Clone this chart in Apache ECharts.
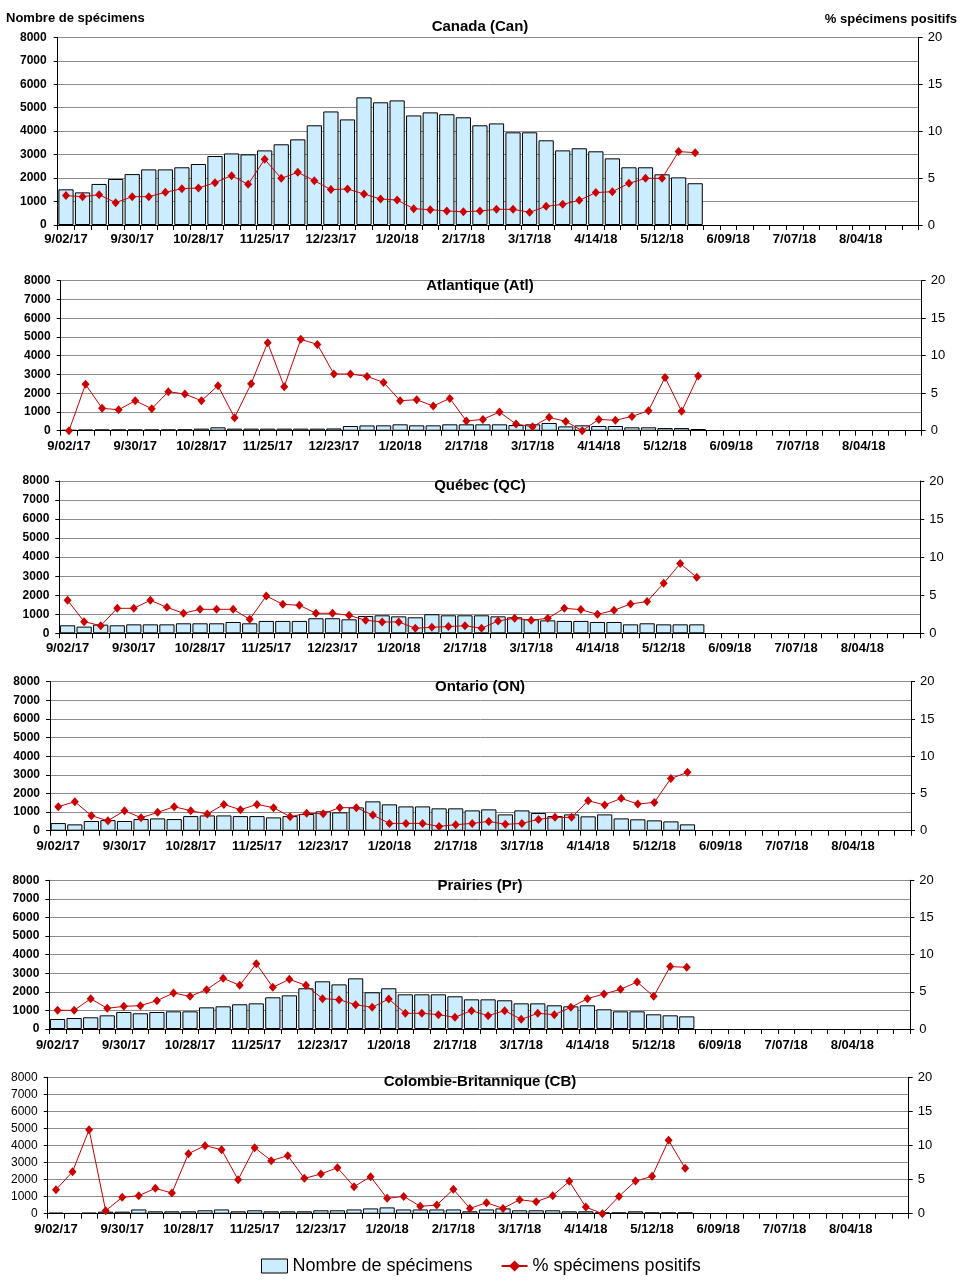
<!DOCTYPE html>
<html><head><meta charset="utf-8">
<script src="https://cdn.jsdelivr.net/npm/echarts@6/dist/echarts.min.js"></script>
<style>html,body{margin:0;padding:0;background:#fff}#c{width:961px;height:1284px}</style>
</head><body><div id="c"></div>
<script>
// ---- categories (weeks) ----
const weeks = ['9/02/17','9/09/17','9/16/17','9/23/17','9/30/17','10/07/17','10/14/17','10/21/17','10/28/17','11/04/17','11/11/17','11/18/17','11/25/17','12/02/17','12/09/17','12/16/17','12/23/17','12/30/17','1/06/18','1/13/18','1/20/18','1/27/18','2/03/18','2/10/18','2/17/18','2/24/18','3/03/18','3/10/18','3/17/18','3/24/18','3/31/18','4/07/18','4/14/18','4/21/18','4/28/18','5/05/18','5/12/18','5/19/18','5/26/18','6/02/18','6/09/18','6/16/18','6/23/18','6/30/18','7/07/18','7/14/18','7/21/18','7/28/18','8/04/18','8/11/18','8/18/18','8/25/18'];

// ---- series values ----
const canadaCount = [1520,1390,1750,1960,2170,2370,2370,2460,2600,2940,3050,3010,3180,3440,3650,4250,4840,4500,5440,5230,5310,4670,4800,4720,4590,4250,4330,3950,3950,3610,3180,3270,3140,2840,2460,2460,2160,2030,1780];
const canadaPct = [3.13,3.02,3.23,2.38,3.02,3.02,3.48,3.87,3.94,4.51,5.26,4.33,7.0,4.97,5.61,4.72,3.77,3.84,3.30,2.77,2.66,1.74,1.63,1.49,1.42,1.49,1.67,1.67,1.35,1.99,2.20,2.63,3.45,3.55,4.44,4.97,4.97,7.82,7.71];

const atlCount = [40,60,70,70,70,70,70,80,110,180,110,110,110,110,110,110,120,250,280,285,340,285,285,340,340,340,340,300,340,410,230,285,250,250,180,180,140,140,90];
const atlPct = [0,6.18,2.98,2.8,4.0,2.93,5.2,4.89,4.0,6.0,1.73,6.27,11.73,5.87,12.18,11.51,7.56,7.56,7.24,6.44,4.0,4.13,3.29,4.31,1.29,1.51,2.49,0.89,0.53,1.78,1.24,0,1.51,1.38,1.91,2.67,7.11,2.58,7.29];

const qcCount = [420,350,455,420,470,470,470,525,525,525,595,525,650,650,650,790,790,735,910,945,890,840,1000,945,945,945,890,840,735,680,650,650,595,595,470,525,470,470,470];
const qcPct = [4.33,1.53,1.0,3.28,3.28,4.33,3.41,2.63,3.15,3.15,3.15,1.84,4.9,3.81,3.68,2.63,2.63,2.36,1.71,1.49,1.49,0.66,0.79,0.88,1.0,0.66,1.62,1.97,1.71,1.97,3.28,3.11,2.49,3.02,3.85,4.16,6.56,9.15,7.35];

const onCount = [410,340,520,570,520,625,660,625,785,820,820,785,785,715,785,895,1040,985,1250,1575,1415,1305,1305,1200,1200,1090,1145,875,1090,950,785,875,770,875,660,610,555,500,340];
const onPct = [3.22,3.89,2.01,1.34,2.68,1.74,2.46,3.22,2.68,2.24,3.53,2.82,3.53,3.09,1.88,2.33,2.28,3.09,3.09,2.10,0.98,0.98,0.98,0.58,0.81,0.98,1.25,0.85,0.98,1.52,1.79,1.79,4.03,3.45,4.34,3.58,3.80,7.02,7.83];

const prCount = [540,590,630,735,915,845,915,950,950,1165,1220,1330,1380,1705,1810,2190,2565,2400,2725,1975,2190,1865,1865,1865,1760,1595,1595,1545,1380,1380,1275,1220,1275,1060,950,950,790,735,680];
const prPct = [2.51,2.51,4.08,2.78,3.05,3.14,3.81,4.84,4.39,5.29,6.82,5.87,8.79,5.61,6.68,5.87,4.08,3.95,3.27,2.91,4.04,2.11,2.11,1.93,1.57,2.47,1.79,2.47,1.30,2.11,1.93,2.91,4.08,4.71,5.34,6.32,4.39,8.39,8.30];

const cbCount = [60,30,60,120,120,250,140,140,140,200,250,140,200,140,140,140,200,200,250,310,370,250,250,250,250,140,250,310,200,200,200,140,140,80,80,140,80,80,80];
const cbPct = [3.52,6.16,12.32,0.44,2.40,2.64,3.72,3.03,8.80,9.98,9.39,4.99,9.68,7.78,8.51,5.18,5.82,6.75,3.96,5.43,2.25,2.54,1.08,1.27,3.57,0.78,1.61,0.78,2.05,1.76,2.64,4.74,0.98,0,2.54,4.79,5.48,10.76,6.65];

// ---- text ----
const panelTitles = ['Canada (Can)','Atlantique (Atl)','Québec (QC)','Ontario (ON)','Prairies (Pr)','Colombie-Britannique (CB)'];
const countName = 'Nombre de spécimens';
const pctName = '% spécimens positifs';
const countAxis = {min:0, max:8000, interval:1000};
const pctAxis = {min:0, max:20, interval:5};

const counts = [canadaCount, atlCount, qcCount, onCount, prCount, cbCount];
const pcts = [canadaPct, atlPct, qcPct, onPct, prPct, cbPct];

// ---- layout ----
const layouts = [
  {left:57.7, top:37.3, h:187.7, titleY:26.5, xm:8, lm:11, lb:'bold'},
  {left:60.7, top:280.7, h:150, titleY:285.5, xm:9, lm:10, lb:'bold'},
  {left:59.3, top:481, h:152.3, titleY:486, xm:8.5, lm:10, lb:'bold'},
  {left:50, top:681.7, h:149, titleY:687, xm:9, lm:10, lb:'bold'},
  {left:49.3, top:880.3, h:148.7, titleY:886, xm:9.5, lm:10, lb:'bold'},
  {left:47.7, top:1077.3, h:136.4, titleY:1081.5, xm:9, lm:10, lb:'normal'}
];
const W = 861;
const FONT = '"Liberation Sans", Arial, sans-serif';
const BAR = '#CCECFF', RED = '#CC0000', GRIDC = '#8c8c8c';
const plain = v => String(v);

const grid = [], xAxis = [], yAxis = [], series = [], graphic = [];
layouts.forEach((L, i) => {
  grid.push({left:L.left, top:L.top, width:W, height:L.h, containLabel:false});
  xAxis.push({
    type:'category', gridIndex:i, data:weeks, boundaryGap:true,
    axisLine:{show:true, lineStyle:{color:'#000', width:1}},
    axisTick:{show:true, interval:0, length:5, alignWithLabel:false, lineStyle:{color:'#000'}},
    axisLabel:{interval:3, margin:L.xm, color:'#000', fontFamily:FONT, fontSize:13, fontWeight:'bold'},
    splitLine:{show:false}
  });
  yAxis.push({
    type:'value', gridIndex:i, position:'left', min:countAxis.min, max:countAxis.max, interval:countAxis.interval,
    axisLine:{show:true, lineStyle:{color:'#000', width:1}},
    axisTick:{show:true, length:4, lineStyle:{color:'#000'}},
    axisLabel:{margin:L.lm, color:'#000', fontFamily:FONT, fontSize:12, fontWeight:L.lb, formatter:plain},
    splitLine:{show:true, lineStyle:{color:GRIDC, width:1}}
  });
  yAxis.push({
    type:'value', gridIndex:i, position:'right', min:pctAxis.min, max:pctAxis.max, interval:pctAxis.interval,
    axisLine:{show:true, lineStyle:{color:'#000', width:1}},
    axisTick:{show:true, length:4, lineStyle:{color:'#000'}},
    axisLabel:{margin:9, color:'#000', fontFamily:FONT, fontSize:13, formatter:plain},
    splitLine:{show:false}
  });
  series.push({
    name:countName, type:'bar', xAxisIndex:i, yAxisIndex:2*i, data:counts[i],
    barCategoryGap:'8%',
    itemStyle:{color:BAR, borderColor:'#000', borderWidth:1},
    z:2
  });
  series.push({
    name:pctName, type:'line', xAxisIndex:i, yAxisIndex:2*i+1, data:pcts[i],
    symbol:'diamond', symbolSize:[8,9], showSymbol:true,
    lineStyle:{color:RED, width:1}, itemStyle:{color:RED},
    z:3
  });
  graphic.push({type:'text', x:480, y:L.titleY, z:10,
    style:{text:panelTitles[i], font:'bold 15px ' + FONT, fill:'#000', textAlign:'center', textVerticalAlign:'middle'}});
});

graphic.push({type:'text', x:6, y:18, style:{text:countName, font:'bold 13px ' + FONT, fill:'#000', textVerticalAlign:'middle'}});
graphic.push({type:'text', x:957, y:19, style:{text:pctName, font:'bold 13px ' + FONT, fill:'#000', textAlign:'right', textVerticalAlign:'middle'}});

const chart = echarts.init(document.getElementById('c'), null, {renderer:'canvas'});
chart.setOption({
  animation:false,
  backgroundColor:'#fff',
  grid, xAxis, yAxis, series, graphic,
  legend:{
    left:256, top:1252, itemWidth:26, itemHeight:14, itemGap:28,
    textStyle:{fontFamily:FONT, fontSize:18, color:'#000'},
    data:[
      {name:countName, icon:'rect', itemStyle:{color:BAR, borderColor:'#000', borderWidth:1}},
      {name:pctName}
    ]
  }
});
</script></body></html>
